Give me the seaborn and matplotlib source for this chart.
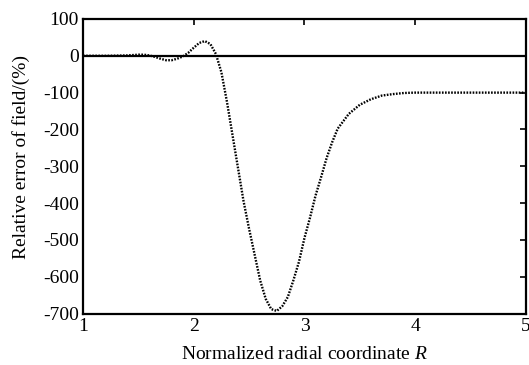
import matplotlib
matplotlib.use("Agg")
import matplotlib.pyplot as plt
import seaborn as sns
import pandas as pd

R = [1.0, 1.2, 1.4, 1.45, 1.5, 1.55, 1.6, 1.65, 1.7, 1.75, 1.8, 1.85, 1.9, 1.95,
     2.0, 2.05, 2.1, 2.15, 2.2, 2.25, 2.3, 2.35, 2.4, 2.45, 2.5, 2.55, 2.6, 2.65,
     2.7, 2.75, 2.8, 2.85, 2.9, 2.95, 3.0, 3.05, 3.1, 3.15, 3.2, 3.25, 3.3, 3.4,
     3.5, 3.6, 3.7, 3.8, 3.9, 4.0, 4.5, 5.0]
err = [0, 0, 1, 2, 3, 3, 1, -3, -8, -12, -12, -8, -2, 8,
       22, 35, 40, 32, 5, -45, -125, -215, -305, -395, -470, -540, -610, -660,
       -688, -693, -680, -655, -610, -560, -495, -440, -380, -330, -278, -235, -198, -158,
       -133, -118, -108, -104, -101, -100, -100, -100]

xticks = [1, 2, 3, 4, 5]
yticks = [100, 0, -100, -200, -300, -400, -500, -600, -700]

sns.set_theme(style="white")
plt.rcParams['font.family'] = ['Liberation Serif', 'DejaVu Serif']
plt.rcParams['mathtext.fontset'] = 'custom'
plt.rcParams['mathtext.it'] = 'Liberation Serif:italic'
plt.rcParams['mathtext.rm'] = 'Liberation Serif'

fig = plt.figure(figsize=(5.29, 3.65), dpi=100)
ax = fig.add_axes([0.157, 0.141, 0.837, 0.807])

df = pd.DataFrame({"R": R, "err": err})
ax.axhline(0, color="black", lw=1.6, zorder=1)
sns.lineplot(data=df, x="R", y="err", ax=ax, color="black", lw=1.7,
             linestyle=(0, (0.7, 0.6)), zorder=2)

ax.set_xlim(1, 5)
ax.set_ylim(-700, 100)
ax.set_xticks(xticks)
ax.set_xticklabels([str(t) for t in xticks])
ax.set_yticks(yticks)
ax.set_yticklabels([str(t) for t in yticks])
ax.tick_params(direction="in", length=4, width=1.2, top=True, right=True,
               labelsize=14, colors="black", pad=3)
for s in ax.spines.values():
    s.set_color("black")
    s.set_linewidth(1.6)
ax.set_xlabel(r"Normalized radial coordinate $R$", fontsize=14, color="black", labelpad=8)
ax.set_ylabel("Relative error of field/(%)", fontsize=14, color="black")
ax.yaxis.set_label_coords(-0.12, 0.53)

fig.savefig("out.png", dpi=100)
